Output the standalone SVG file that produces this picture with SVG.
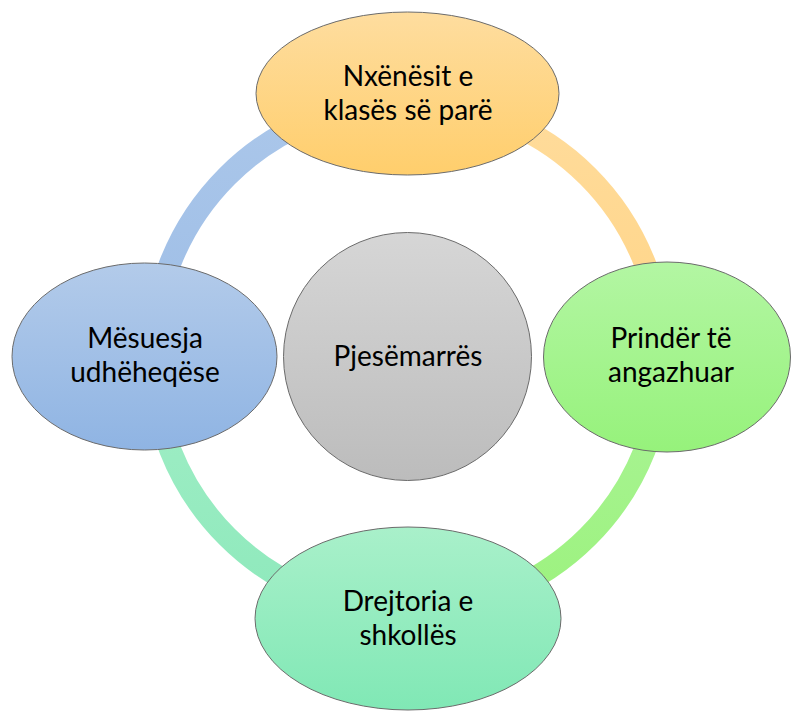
<svg xmlns="http://www.w3.org/2000/svg" width="791" height="711" viewBox="0 0 791 711">
<defs>
<style>
.node{stroke:#6b6b6b;stroke-width:1}
.lbl{font-family:Lato,"Open Sans",sans-serif;font-size:28px;fill:#000;text-anchor:middle}
.arc{fill:none;stroke-width:22}
</style>
<linearGradient id="gTop" x1="0" y1="0" x2="0" y2="1"><stop offset="0" stop-color="#fedd9f"/><stop offset="1" stop-color="#ffce6c"/></linearGradient>
<linearGradient id="gLeft" x1="0" y1="0" x2="0" y2="1"><stop offset="0" stop-color="#b3cbea"/><stop offset="1" stop-color="#8fb4e3"/></linearGradient>
<linearGradient id="gRight" x1="0" y1="0" x2="0" y2="1"><stop offset="0" stop-color="#b3f6a3"/><stop offset="1" stop-color="#96f27b"/></linearGradient>
<linearGradient id="gBottom" x1="0" y1="0" x2="0" y2="1"><stop offset="0" stop-color="#a9f0ca"/><stop offset="1" stop-color="#80e8b5"/></linearGradient>
<linearGradient id="gCenter" x1="0" y1="0" x2="0" y2="1"><stop offset="0" stop-color="#d6d6d6"/><stop offset="1" stop-color="#bcbcbc"/></linearGradient>
<linearGradient id="aTR" x1="0" y1="0" x2="0" y2="1"><stop offset="0" stop-color="#ffdc9c"/><stop offset="1" stop-color="#ffd486"/></linearGradient>
<linearGradient id="aBR" x1="0" y1="0" x2="0" y2="1"><stop offset="0" stop-color="#abf498"/><stop offset="1" stop-color="#9cf27e"/></linearGradient>
<linearGradient id="aBL" x1="0" y1="0" x2="0" y2="1"><stop offset="0" stop-color="#a2eec6"/><stop offset="1" stop-color="#8ee9bc"/></linearGradient>
<linearGradient id="aTL" x1="0" y1="0" x2="0" y2="1"><stop offset="0" stop-color="#abc7ea"/><stop offset="1" stop-color="#9dbde6"/></linearGradient>
</defs>
<rect width="791" height="711" fill="#ffffff"/>
<g id="connectors">
<path class="arc" stroke="url(#aTR)" d="M 407.5 101.5 A 255 255 0 0 1 662.5 356.5"/>
<path class="arc" stroke="url(#aBR)" d="M 662.5 356.5 A 255 255 0 0 1 407.5 611.5"/>
<path class="arc" stroke="url(#aBL)" d="M 407.5 611.5 A 255 255 0 0 1 152.5 356.5"/>
<path class="arc" stroke="url(#aTL)" d="M 152.5 356.5 A 255 255 0 0 1 407.5 101.5"/>
</g>
<g id="center">
<circle class="node" cx="407.5" cy="356.5" r="124" fill="url(#gCenter)"/>
<text class="lbl" x="408" y="366">Pjesëmarrës</text>
</g>
<g id="top">
<ellipse class="node" cx="407.5" cy="93.5" rx="151.5" ry="81.5" fill="url(#gTop)"/>
<text class="lbl" x="408" y="86">Nxënësit e</text>
<text class="lbl" x="408" y="120">klasës së parë</text>
</g>
<g id="right">
<ellipse class="node" cx="667" cy="357" rx="123.5" ry="95" fill="url(#gRight)"/>
<text class="lbl" x="671" y="348">Prindër të</text>
<text class="lbl" x="671" y="382">angazhuar</text>
</g>
<g id="bottom">
<ellipse class="node" cx="408" cy="618.5" rx="153" ry="91.5" fill="url(#gBottom)"/>
<text class="lbl" x="408" y="611">Drejtoria e</text>
<text class="lbl" x="408" y="645">shkollës</text>
</g>
<g id="left">
<ellipse class="node" cx="144.5" cy="356.5" rx="132.5" ry="93.5" fill="url(#gLeft)"/>
<text class="lbl" x="145" y="348">Mësuesja</text>
<text class="lbl" x="145" y="382">udhëheqëse</text>
</g>
</svg>
